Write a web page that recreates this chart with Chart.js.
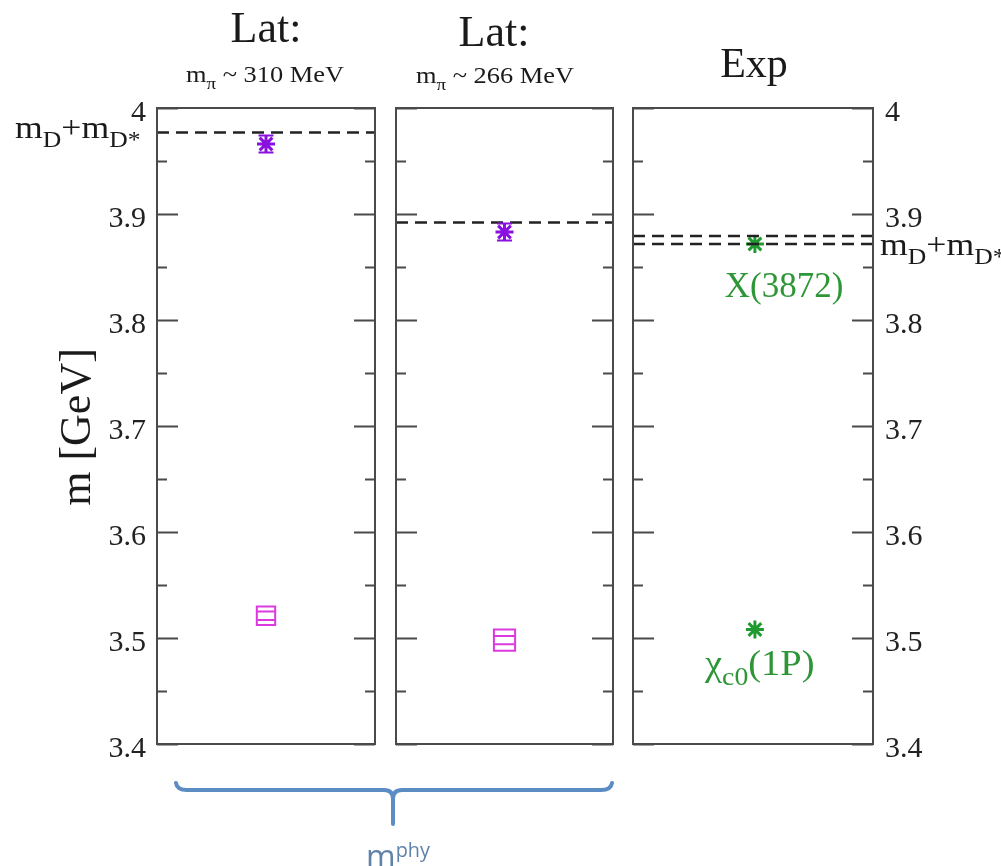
<!DOCTYPE html>
<html>
<head>
<meta charset="utf-8">
<title>Charmonium masses</title>
<script src="https://cdn.jsdelivr.net/npm/chart.js@4.4.1/dist/chart.umd.min.js"></script>
<style>
  body { margin: 0; background: #fff; }
  #page {
    position: relative; width: 1001px; height: 866px; overflow: hidden;
    font-family: "Liberation Serif", "Times New Roman", serif; color: #1a1a1a;
  }
  canvas { position: absolute; top: 0; }
  .lbl { position: absolute; white-space: nowrap; line-height: 1; }
  .lbl sub { font-size: 0.72em; vertical-align: -0.4em; line-height: 0; }
  .lbl sup { font-size: 0.62em; vertical-align: 0.55em; line-height: 0; }
  svg { position: absolute; left: 0; top: 0; }
</style>
</head>
<body>
<div id="page">
  <canvas id="lat310" width="385" height="866" style="left:0"></canvas>
  <canvas id="lat266" width="237" height="866" style="left:386px"></canvas>
  <canvas id="exp" width="378" height="866" style="left:623px"></canvas>
  <svg width="1001" height="866">
    <path d="M176,783 Q177,790 187,790 L384,790 Q393,790 393,799 L393,824 M393,799 Q393,790 402,790 L601,790 Q611,790 612,783"
          fill="none" stroke="#5b8cc4" stroke-width="4" stroke-linecap="round"/>
  </svg>
</div>

<script>
// axis
const yMin = 3.4, yMax = 4.0;
const yTicks = [3.4, 3.5, 3.6, 3.7, 3.8, 3.9, 4.0];
const yMinorTicks = [3.45, 3.55, 3.65, 3.75, 3.85, 3.95];

// m_D + m_D* thresholds (GeV)
const thresholdLat310 = [3.977];
const thresholdLat266 = [3.892];
const thresholdExp = [3.8717, 3.8793];

// lattice levels: [m_pi=310, m_pi=266]
const xLevelMass = [3.966, 3.883];
const xLevelErr = [0.008, 0.008];
const chiLevelMass = [3.521, 3.498];
const chiLevelErr = [0.004, 0.004];

// experiment: X(3872), chi_c0(1P)
const expNames = ["X(3872)", "χc0(1P)"];
const expMass = [3.8717, 3.508];

const PURPLE = "#8a10e0";
const MAGENTA = "#dc3ae0";
const GREEN = "#1f9a30";
const GREEN_TXT = "#2e9636";

// frame, inward ticks and error bars
const panelPlugin = {
  id: "panelFrame",
  afterDatasetsDraw(chart) {
    const ctx = chart.ctx;
    const a = chart.chartArea;
    const ys = chart.scales.y;
    ctx.save();
    ctx.strokeStyle = "#4a4a4a";
    ctx.lineWidth = 2;
    ctx.strokeRect(a.left, a.top, a.right - a.left, a.bottom - a.top);
    const tick = (v, len) => {
      const y = Math.round(ys.getPixelForValue(v)) + 0.5;
      ctx.beginPath();
      ctx.moveTo(a.left, y); ctx.lineTo(a.left + len, y);
      ctx.moveTo(a.right, y); ctx.lineTo(a.right - len, y);
      ctx.stroke();
    };
    yTicks.forEach(v => tick(v, 21));
    yMinorTicks.forEach(v => tick(v, 10));

    chart.data.datasets.forEach((ds, i) => {
      if (!ds.errors) return;
      const meta = chart.getDatasetMeta(i);
      meta.data.forEach((pt, j) => {
        const v = ds.data[j].y, e = ds.errors[j];
        const y1 = ys.getPixelForValue(v - e), y2 = ys.getPixelForValue(v + e);
        const w = ds.capWidth / 2;
        ctx.strokeStyle = ds.borderColor;
        ctx.lineWidth = 2;
        ctx.beginPath();
        if (ds.errorStem) { ctx.moveTo(pt.x, y1); ctx.lineTo(pt.x, y2); }
        ctx.moveTo(pt.x - w, y1); ctx.lineTo(pt.x + w, y1);
        ctx.moveTo(pt.x - w, y2); ctx.lineTo(pt.x + w, y2);
        ctx.stroke();
      });
    });
    ctx.restore();
  }
};

function dashed(v) {
  return {
    type: "line",
    data: [{ x: 0, y: v }, { x: 1, y: v }],
    borderColor: "#222",
    borderWidth: 2.5,
    borderDash: [12, 7],
    pointRadius: 0
  };
}

function starSet(x, v, err, color) {
  return {
    type: "scatter",
    data: [{ x: x, y: v }],
    errors: err == null ? null : [err],
    capWidth: 15,
    errorStem: true,
    pointStyle: "star",
    pointRadius: 9,
    borderWidth: 3,
    borderColor: color,
    backgroundColor: color
  };
}

function squareSet(v, err, radius) {
  return {
    type: "scatter",
    data: [{ x: 0.5, y: v }],
    errors: [err],
    capWidth: radius * Math.SQRT1_2 * 2,
    errorStem: false,
    pointStyle: "rect",
    pointRadius: radius,
    borderWidth: 2,
    borderColor: MAGENTA,
    backgroundColor: "rgba(0,0,0,0)"
  };
}

function tickLabel(v) {
  const t = yTicks.find(t => Math.abs(t - v) < 1e-6);
  return t === undefined ? "" : String(t);
}

function makePanel(id, datasets, axis) {
  const yScale = {
    min: yMin, max: yMax,
    display: axis !== "none",
    position: axis === "right" ? "right" : "left",
    grid: { display: false, drawTicks: false },
    border: { display: false },
    ticks: {
      stepSize: 0.1,
      padding: axis === "right" ? 12 : 11,
      labelOffset: 5,
      color: "#222",
      font: { family: "Liberation Serif", size: 30 },
      callback: tickLabel
    }
  };
  if (axis === "left") yScale.afterFit = s => { s.width = 157; };
  if (axis === "right") yScale.afterFit = s => { s.width = 128; };

  return new Chart(document.getElementById(id), {
    data: { datasets: datasets },
    options: {
      responsive: false,
      animation: false,
      events: [],
      layout: {
        autoPadding: false,
        padding: {
          top: 108, bottom: 122,
          left: axis === "left" ? 0 : 10,
          right: axis === "right" ? 0 : 10
        }
      },
      plugins: { legend: { display: false }, tooltip: { enabled: false } },
      scales: {
        x: { type: "linear", min: 0, max: 1, display: false },
        y: yScale
      }
    },
    plugins: [panelPlugin]
  });
}

makePanel("lat310", [
  ...thresholdLat310.map(dashed),
  starSet(0.5, xLevelMass[0], xLevelErr[0], PURPLE),
  squareSet(chiLevelMass[0], chiLevelErr[0], 13)
], "left");

makePanel("lat266", [
  ...thresholdLat266.map(dashed),
  starSet(0.5, xLevelMass[1], xLevelErr[1], PURPLE),
  squareSet(chiLevelMass[1], chiLevelErr[1], 15)
], "none");

makePanel("exp", [
  ...thresholdExp.map(dashed),
  starSet(0.508, expMass[0], null, GREEN),
  starSet(0.508, expMass[1], null, GREEN)
], "right");

// text around the panels, placed by baseline
const page = document.getElementById("page");
function addText(html, x, baseline, size, opts) {
  opts = opts || {};
  const el = document.createElement("div");
  el.className = "lbl";
  el.innerHTML = html;
  el.style.fontSize = size + "px";
  el.style.left = x + "px";
  el.style.top = (baseline - 0.8375 * size) + "px";
  if (opts.color) el.style.color = opts.color;
  if (opts.family) el.style.fontFamily = opts.family;
  let tf = opts.center ? "translateX(-50%)" : "";
  if (opts.sx) tf += " scaleX(" + opts.sx + ")";
  el.style.transform = tf;
  el.style.transformOrigin = opts.center ? "50% 0" : "0 0";
  page.appendChild(el);
  return el;
}

addText("Lat:", 266, 43, 44, { center: true });
addText("m<sub>π</sub> ~ 310 MeV", 265, 82, 24, { center: true, sx: 1.1 });
addText("Lat:", 494, 47, 44, { center: true });
addText("m<sub>π</sub> ~ 266 MeV", 495, 83, 24, { center: true, sx: 1.1 });
addText("Exp", 754, 77, 42, { center: true });

addText("m<sub>D</sub>+m<sub>D*</sub>", 15, 138, 31, { sx: 1.15 });
addText("m<sub>D</sub>+m<sub>D*</sub>", 880, 255, 31, { sx: 1.15 });

addText(expNames[0], 784, 297, 35, { center: true, color: GREEN_TXT });
addText("χ<sub>c0</sub>(1P)", 705, 675, 35, { color: GREEN_TXT, sx: 1.1 });

const yTitle = addText("m [GeV]", 76, 0, 44);
yTitle.style.left = "0px";
yTitle.style.top = "0px";
yTitle.style.transformOrigin = "center center";
yTitle.style.transform = "translate(" + (76 - yTitle.offsetWidth / 2) + "px," + (427 - yTitle.offsetHeight / 2) + "px) rotate(-90deg)";

addText("m<sup>phy</sup>", 398, 867, 32, { center: true, color: "#5f82aa", family: "'Open Sans', 'DejaVu Sans', sans-serif" });
</script>
</body>
</html>
